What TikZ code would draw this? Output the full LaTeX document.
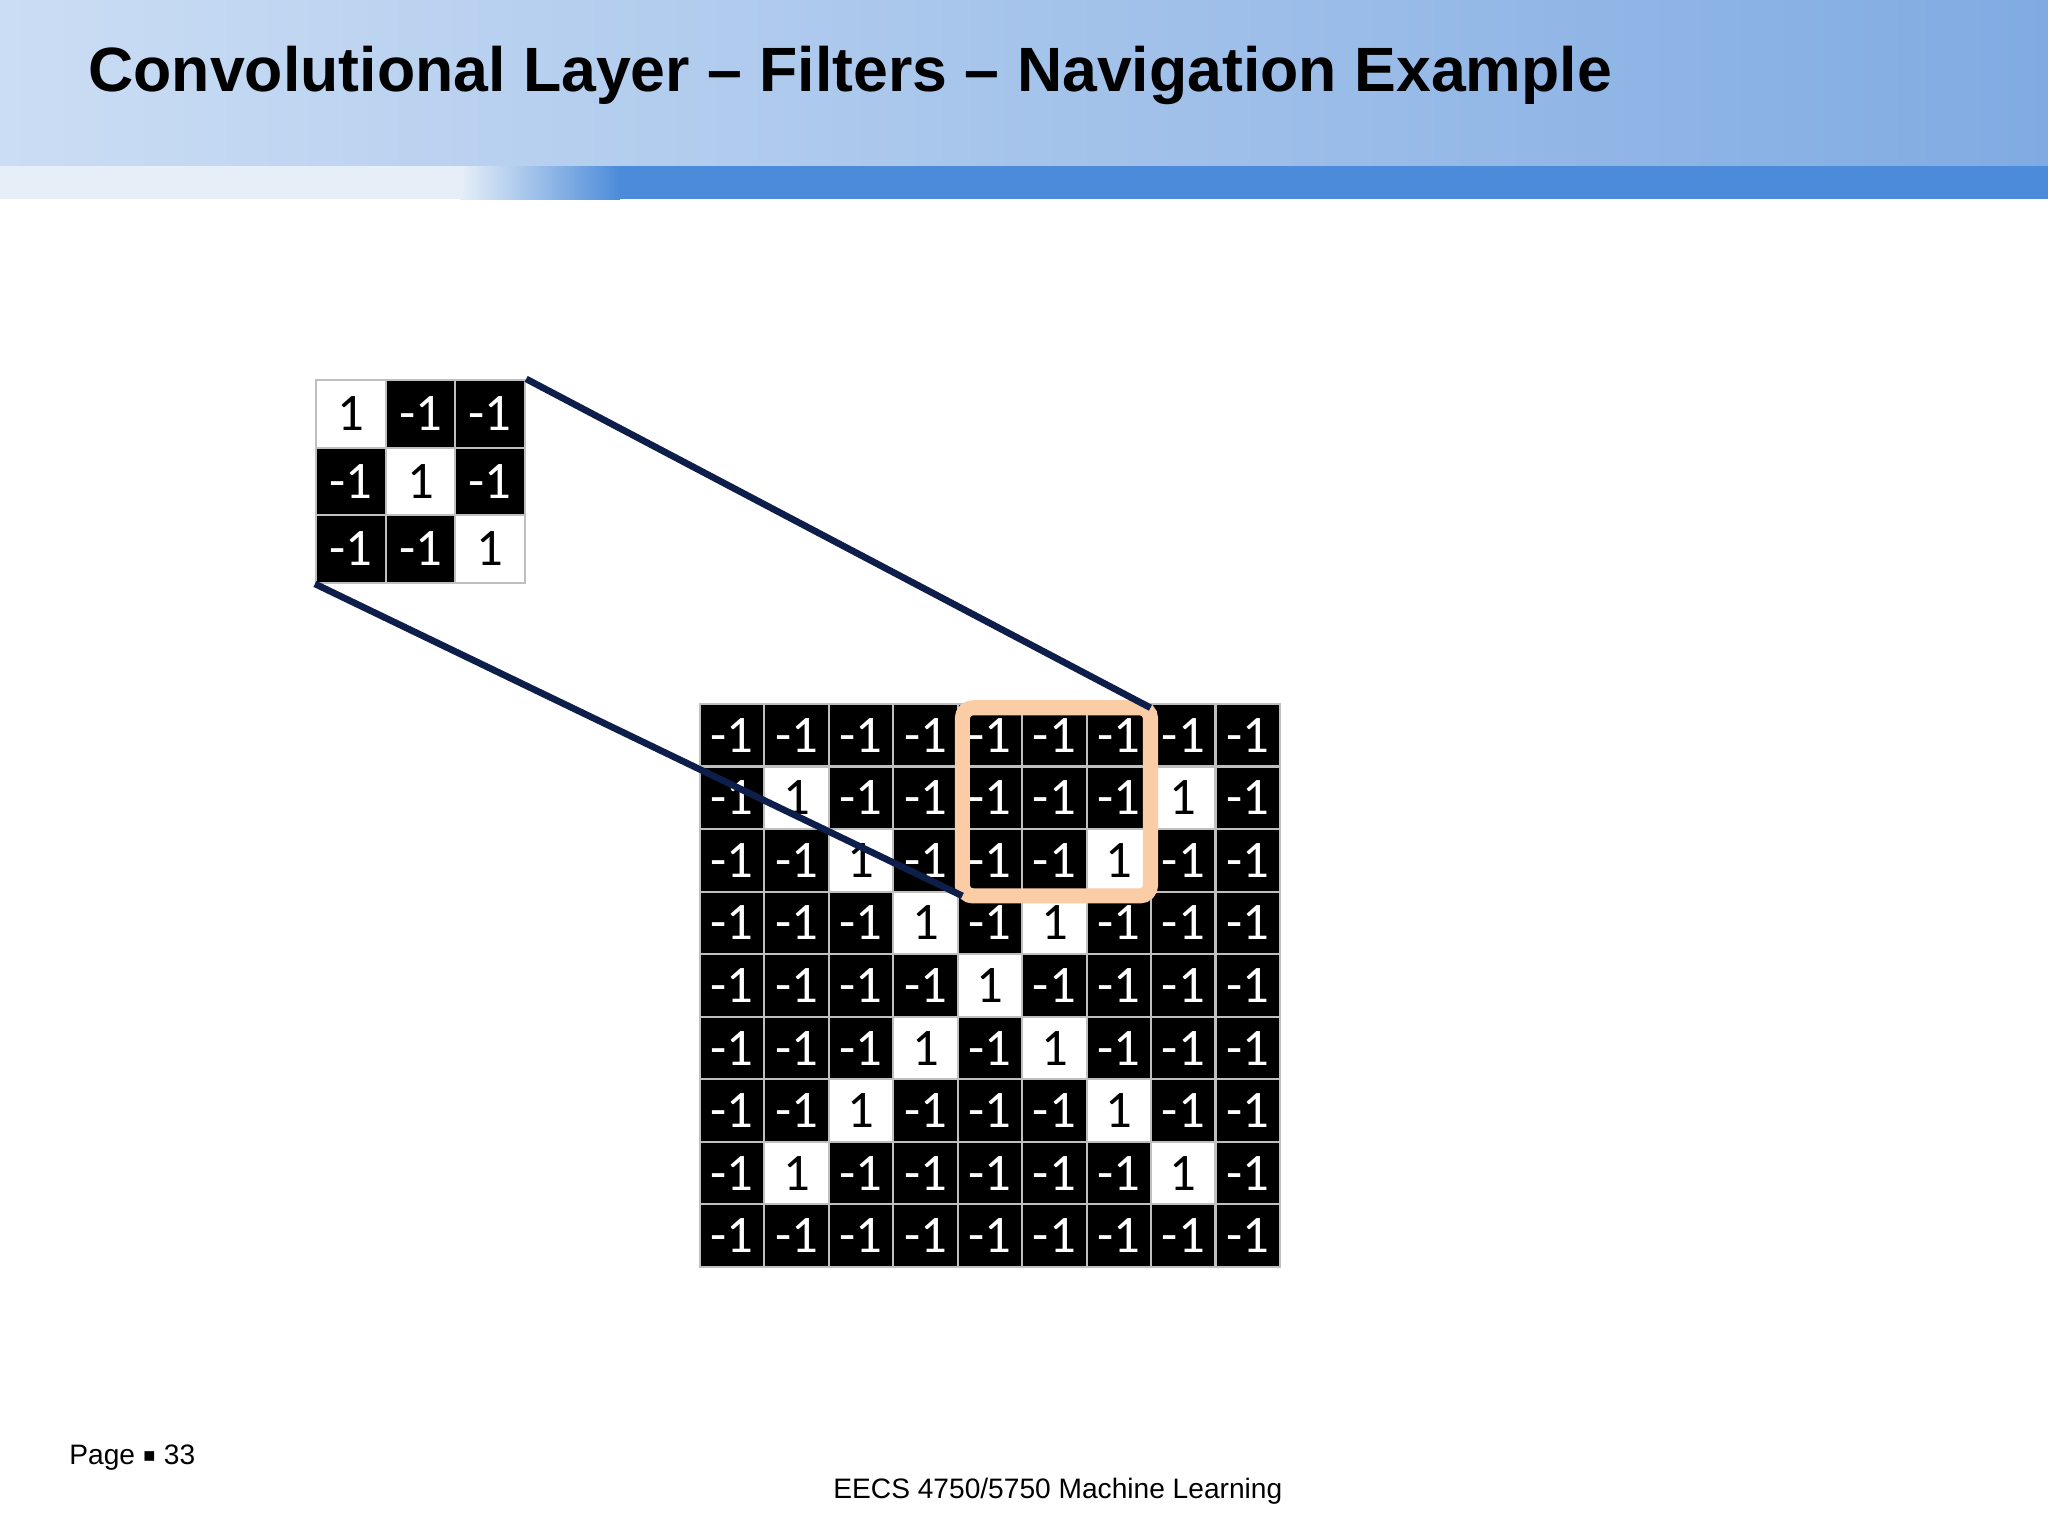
\documentclass[tikz,border=0pt]{standalone}
\usepackage{fontspec}
\setmainfont{Liberation Sans}
\newfontfamily\cellfont{Carlito}
\newfontfamily\symfont{DejaVu Sans}
\usetikzlibrary{positioning,calc}
\definecolor{headlight}{RGB}{203,221,244}
\definecolor{headdark}{RGB}{128,171,226}
\definecolor{bandpale}{RGB}{230,239,248}
\definecolor{bandblue}{RGB}{76,139,217}
\definecolor{winorange}{RGB}{250,205,166}
\definecolor{linknavy}{RGB}{14,30,74}
\tikzset{cell/.style={rectangle, draw=black!25, line width=0.6pt, inner sep=0pt, minimum width=6.444mm, minimum height=6.255mm, font=\cellfont\fontsize{15}{15}\selectfont},
	poscell/.style={cell, fill=white, text=black},
	negcell/.style={cell, fill=black, text=white},
	fcell/.style={minimum width=6.97mm, minimum height=6.76mm},
	window/.style={rectangle, draw=winorange, line width=4.3pt, rounded corners=3pt, outer sep=0pt, minimum width=1.88cm, minimum height=1.88cm},
	link/.style={line width=1.9pt, color=linknavy}}

\begin{document}
\begin{tikzpicture}[x=0.01cm,y=-0.01cm]
	\useasboundingbox (0,0) rectangle (2048,1536);
	\fill [white] (0,0) rectangle (2048,1536);
	\shade [left color=headlight, right color=headdark] (0,0) rectangle (2048,166);
	\fill [bandpale] (0,166) rectangle (460,199);
	\shade [left color=bandpale, right color=bandblue] (460,166) rectangle (620,199);
	\fill [bandblue] (620,166) rectangle (2048,199);
	\node [anchor=base west, font=\bfseries\fontsize{17.8}{21}\selectfont] (title) at (76,91) {Convolutional Layer – Filters – Navigation Example};
	\foreach \row [count=\r] in {{1,-1,-1},{-1,1,-1},{-1,-1,1}} {
		\foreach \v [count=\c] in \row {
			\ifnum\v>0 \def\cellkind{poscell}\else\def\cellkind{negcell}\fi
			\node [\cellkind, fcell] (f-\r-\c) at ({316+69.7*(\c-0.5)},{380+67.6*(\r-0.5)}) {\v};
		}
	}
	\foreach \row [count=\r] in {{-1,-1,-1,-1,-1,-1,-1,-1,-1},{-1,1,-1,-1,-1,-1,-1,1,-1},{-1,-1,1,-1,-1,-1,1,-1,-1},{-1,-1,-1,1,-1,1,-1,-1,-1},{-1,-1,-1,-1,1,-1,-1,-1,-1},{-1,-1,-1,1,-1,1,-1,-1,-1},{-1,-1,1,-1,-1,-1,1,-1,-1},{-1,1,-1,-1,-1,-1,-1,1,-1},{-1,-1,-1,-1,-1,-1,-1,-1,-1}} {
		\foreach \v [count=\c] in \row {
			\ifnum\v>0 \def\cellkind{poscell}\else\def\cellkind{negcell}\fi
			\node [\cellkind] (g-\r-\c) at ({700+64.44*(\c-0.5)},{704+62.55*(\r-0.5)}) {\v};
		}
	}
	\node [window] (win) at ($(g-2-6.center)+(2,4)$) {};
	\draw [link] (f-1-3.north east) -- (win.north east);
	\draw [link] (f-3-1.south west) -- (win.south west);
	\node [anchor=base west, font=\fontsize{8}{10}\selectfont] (page) at (57,1464) {Page {\symfont\fontsize{5.5}{6}\selectfont\raisebox{0.25ex}{▪}} 33};
	\node [anchor=base west, font=\fontsize{8}{10}\selectfont] (course) at (821,1498) {EECS 4750/5750 Machine Learning};
\end{tikzpicture}
\end{document}
